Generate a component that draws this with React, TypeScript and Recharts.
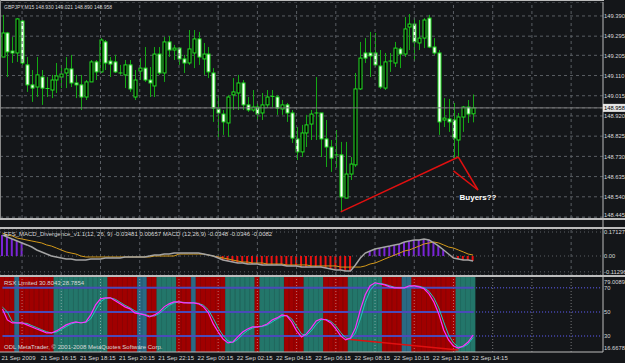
import React from 'react';
import {
  ComposedChart,
  Bar,
  Line,
  XAxis,
  YAxis,
  CartesianGrid,
  ReferenceLine,
  ReferenceDot,
  Cell
} from 'recharts';

const BG = '#141619';
const FONT = '"Liberation Sans", Arial, sans-serif';
const GRID = '#5a5e64';
const FRAME = '#bcbcbc';
const TXT = '#d8d8d8';

// GBPJPY M15 candles, 21 Sep 14:15 .. 22 Sep 14:15
const opens = [
  149.197, 149.310, 149.225, 149.216, 149.366, 149.160, 149.066, 149.056, 149.103, 149.051,
  149.042, 149.089, 149.103, 149.122, 149.141, 149.075, 149.066, 149.009, 149.080, 149.174,
  149.127, 149.268, 149.178, 149.174, 149.127, 149.113, 149.160, 149.009, 149.131, 149.145,
  149.089, 149.061, 149.211, 149.122, 149.268, 149.230, 149.239, 149.188, 149.169, 149.216,
  149.282, 149.188, 149.211, 149.122, 148.953, 148.929, 148.887, 149.019, 149.028, 149.075,
  148.972, 148.948, 148.962, 148.934, 148.972, 149.014, 149.009, 148.953, 148.972, 148.934,
  148.812, 148.751, 148.840, 148.882, 148.939, 148.934, 148.812, 148.774, 148.732, 148.737,
  148.534, 148.647, 148.690, 149.047, 149.216, 149.216, 149.216, 149.155, 149.051, 149.174,
  149.169, 149.235, 149.211, 149.338, 149.352, 149.263, 149.286, 149.380, 149.244, 149.216,
  148.901, 148.906, 148.901, 148.807, 148.915, 148.962, 148.930
];
const highs = [
  149.395, 149.315, 149.291, 149.380, 149.371, 149.197, 149.136, 149.197, 149.136, 149.103,
  149.113, 149.169, 149.160, 149.197, 149.207, 149.113, 149.113, 149.089, 149.183, 149.183,
  149.286, 149.277, 149.197, 149.207, 149.160, 149.183, 149.183, 149.136, 149.192, 149.244,
  149.150, 149.244, 149.244, 149.291, 149.296, 149.254, 149.244, 149.207, 149.324, 149.324,
  149.315, 149.263, 149.244, 149.145, 149.019, 148.948, 149.019, 149.098, 149.113, 149.089,
  149.009, 149.042, 148.981, 149.028, 149.042, 149.042, 149.019, 148.995, 148.981, 148.948,
  148.868, 148.878, 148.925, 148.948, 149.103, 148.934, 148.901, 148.807, 148.854, 148.798,
  148.798, 148.727, 149.122, 149.268, 149.286, 149.315, 149.310, 149.230, 149.216, 149.216,
  149.268, 149.244, 149.385, 149.399, 149.380, 149.371, 149.380, 149.395, 149.286, 149.230,
  149.004, 149.000, 148.981, 148.934, 148.967, 148.995, 149.021
];
const lows = [
  149.197, 149.103, 149.169, 149.174, 149.160, 149.033, 148.986, 149.009, 148.972, 149.009,
  149.004, 149.028, 149.051, 149.051, 149.056, 149.004, 148.948, 148.995, 149.080, 149.089,
  149.122, 149.136, 149.103, 149.122, 149.113, 149.051, 149.033, 148.995, 149.089, 149.080,
  149.009, 149.009, 149.113, 149.080, 149.197, 149.183, 149.160, 149.122, 149.160, 149.145,
  149.160, 149.113, 149.098, 148.892, 148.821, 148.831, 148.821, 148.948, 148.948, 148.948,
  148.939, 148.939, 148.901, 148.901, 148.957, 148.962, 148.925, 148.925, 148.892, 148.793,
  148.713, 148.727, 148.774, 148.807, 148.807, 148.727, 148.680, 148.657, 148.676, 148.469,
  148.534, 148.619, 148.680, 149.042, 149.169, 149.103, 149.150, 149.047, 149.042, 149.127,
  149.150, 149.145, 149.197, 149.230, 149.178, 149.230, 149.239, 149.239, 149.207, 148.831,
  148.868, 148.845, 148.722, 148.722, 148.845, 148.887, 148.890
];
const closes = [
  149.310, 149.221, 149.216, 149.376, 149.169, 149.066, 149.051, 149.113, 149.051, 149.049,
  149.089, 149.108, 149.117, 149.141, 149.075, 149.066, 149.009, 149.080, 149.174, 149.127,
  149.277, 149.169, 149.164, 149.127, 149.122, 149.160, 149.047, 149.089, 149.145, 149.089,
  149.075, 149.211, 149.122, 149.268, 149.230, 149.239, 149.188, 149.169, 149.235, 149.282,
  149.197, 149.211, 149.127, 148.957, 148.934, 148.892, 149.009, 149.033, 149.075, 148.972,
  148.948, 148.962, 148.929, 148.972, 149.009, 149.012, 148.957, 148.972, 148.934, 148.816,
  148.751, 148.840, 148.878, 148.929, 148.934, 148.812, 148.774, 148.722, 148.737, 148.539,
  148.647, 148.694, 149.047, 149.192, 149.192, 149.202, 149.160, 149.056, 149.174, 149.178,
  149.239, 149.211, 149.329, 149.352, 149.268, 149.286, 149.371, 149.244, 149.216, 148.892,
  148.910, 148.892, 148.816, 148.915, 148.962, 148.929, 148.958
];

const priceTicks = [149.39, 149.295, 149.205, 149.11, 149.015, 148.958, 148.92, 148.825, 148.73, 148.635, 148.54, 148.445];
const lastPrice = 148.958;

// MACD subwindow
const macdMain = [
  0.150, 0.136, 0.121, 0.107, 0.093, 0.079, 0.064, 0.043, 0.029, 0.014,
  0.000, -0.007, -0.014, -0.021, -0.021, -0.029, -0.029, -0.029, -0.021, -0.021,
  -0.021, -0.014, -0.014, -0.014, -0.014, -0.007, -0.007, -0.007, -0.007, -0.007,
  0.000, 0.007, 0.007, 0.014, 0.014, 0.021, 0.021, 0.021, 0.021, 0.021,
  0.021, 0.014, 0.007, 0.000, -0.014, -0.029, -0.036, -0.043, -0.050, -0.050,
  -0.057, -0.057, -0.057, -0.064, -0.064, -0.064, -0.064, -0.064, -0.071, -0.071,
  -0.071, -0.079, -0.079, -0.079, -0.079, -0.079, -0.086, -0.093, -0.100, -0.100,
  -0.107, -0.107, -0.064, -0.014, 0.021, 0.036, 0.050, 0.057, 0.064, 0.071,
  0.079, 0.086, 0.100, 0.107, 0.114, 0.114, 0.121, 0.114, 0.093, 0.071,
  0.043, 0.014, -0.014, -0.021, -0.029, -0.029, -0.035
];
const macdSignal = [
  0.164, 0.150, 0.143, 0.128, 0.121, 0.114, 0.107, 0.100, 0.093, 0.079,
  0.071, 0.057, 0.043, 0.029, 0.021, 0.014, 0.000, -0.007, -0.007, -0.007,
  -0.007, -0.007, -0.007, -0.007, -0.007, -0.007, -0.007, -0.007, -0.007, -0.007,
  -0.007, 0.000, 0.000, 0.000, 0.000, 0.000, 0.014, 0.014, 0.014, 0.014,
  0.014, 0.014, 0.007, 0.000, -0.007, -0.014, -0.021, -0.029, -0.036, -0.043,
  -0.043, -0.050, -0.050, -0.050, -0.057, -0.057, -0.057, -0.057, -0.064, -0.064,
  -0.064, -0.064, -0.064, -0.071, -0.071, -0.071, -0.071, -0.071, -0.071, -0.079,
  -0.079, -0.079, -0.079, -0.079, -0.071, -0.057, -0.050, -0.036, -0.021, -0.007,
  0.007, 0.021, 0.036, 0.043, 0.057, 0.071, 0.086, 0.093, 0.100, 0.093,
  0.079, 0.064, 0.057, 0.043, 0.029, 0.014, 0.007
];
// which bars carry a histogram stick: p = purple, r = red, - = none
const histRuns: [string, number][] = [['p', 5], ['-', 39], ['r', 28], ['-', 3], ['p', 16], ['-', 1], ['r', 5]];
const macdTicks = [0.17127, 0, -0.11296];
const macdTickText: Record<string, string> = { '0.17127': '0.17127', '0': '0.00', '-0.11296': '-0.11296' };

// RSX subwindow
const rsxMain = [
  52.5, 43.3, 40.8, 40.8, 40.8, 39.2, 37.5, 35.8, 34.2, 32.5,
  32.5, 34.2, 36.7, 39.2, 40.8, 41.7, 40.8, 41.7, 47.5, 55.8,
  60.8, 61.7, 61.7, 59.2, 56.7, 54.2, 52.5, 49.2, 48.3, 47.5,
  45.8, 47.5, 50.0, 54.2, 56.7, 58.3, 58.3, 57.5, 57.5, 57.5,
  56.7, 54.2, 49.2, 40.0, 33.3, 27.5, 24.2, 25.0, 29.2, 33.3,
  35.8, 37.5, 37.5, 38.3, 40.0, 43.3, 45.0, 47.5, 46.7, 41.7,
  34.2, 29.2, 31.7, 36.7, 42.5, 44.2, 43.3, 40.8, 35.8, 30.0,
  26.7, 28.3, 36.7, 51.7, 64.2, 71.7, 74.2, 73.3, 72.5, 70.8,
  70.0, 70.0, 70.0, 71.7, 71.7, 70.8, 69.2, 65.0, 58.3, 48.3,
  35.0, 26.7, 21.7, 20.0, 21.7, 25.0, 30.8
];
const rsxSignal = [
  54.0, 50.0, 42.0, 40.8, 40.8, 40.4, 38.6, 36.9, 35.2, 33.5,
  32.5, 33.2, 35.3, 37.8, 40.0, 41.2, 41.2, 41.2, 44.2, 51.5,
  58.4, 61.2, 61.7, 60.5, 58.0, 55.5, 53.4, 50.9, 48.8, 47.9,
  46.7, 46.6, 48.7, 52.0, 55.4, 57.5, 58.3, 57.9, 57.5, 57.5,
  57.1, 55.5, 51.7, 44.6, 36.7, 30.4, 25.9, 24.6, 27.1, 31.2,
  34.5, 36.6, 37.5, 37.9, 39.1, 41.6, 44.1, 46.2, 47.1, 44.2,
  38.0, 31.7, 30.4, 34.2, 39.6, 43.3, 43.8, 42.1, 38.3, 32.9,
  28.4, 27.5, 32.5, 44.2, 57.9, 67.9, 72.9, 73.8, 72.9, 71.7,
  70.4, 70.0, 70.0, 70.8, 71.7, 71.3, 70.0, 67.1, 61.7, 53.3,
  41.7, 30.9, 24.2, 20.9, 20.9, 23.3, 28.8
];
// background state per bar: r = red, g = green dotted, t = teal
const zoneRuns: [string, number][] = [
  ['r', 3], ['t', 1], ['r', 7], ['g', 11], ['r', 6], ['t', 2], ['r', 2], ['g', 4], ['r', 3], ['t', 1],
  ['r', 6], ['g', 6], ['r', 1], ['g', 5], ['r', 4], ['g', 4], ['r', 5], ['g', 7], ['r', 4], ['t', 2],
  ['r', 9], ['g', 4]
];
const zoneColors: Record<string, string> = { r: '#a00000', g: '#23766a', t: '#2a6a84' };
const rsxMin = 16.6678;
const rsxMax = 79.0089;
const rsxTicks = [79.0089, 70, 50, 30, 16.6678];
const rsxLevels = [70, 50, 30];

const timeTickBars = [0, 8, 16, 24, 32, 40, 48, 56, 64, 72, 80, 88, 96];
const timeLabels = [
  '21 Sep 2009', '21 Sep 16:15', '21 Sep 18:15', '21 Sep 20:15', '21 Sep 22:15', '22 Sep 00:15',
  '22 Sep 02:15', '22 Sep 04:15', '22 Sep 06:15', '22 Sep 08:15', '22 Sep 10:15', '22 Sep 12:15', '22 Sep 14:15'
];
const gridBars = [4, 12, 20, 28, 36, 44, 52, 60, 68, 76, 84, 92, 100, 108, 116];

const N = opens.length;
const SLOTS = 123;
const lastBar = N - 1;

const expand = (runs: [string, number][]) => runs.flatMap(([c, n]) => Array(n).fill(c));
const histTone = expand(histRuns);
const zones = expand(zoneRuns);

const slots = Array.from({ length: SLOTS }, (_, i) => i);

const mainData = slots.map(i =>
  i < N
    ? { i, open: opens[i], high: highs[i], low: lows[i], close: closes[i], range: [lows[i], highs[i]] }
    : { i, range: null }
);
const macdData = slots.map(i => ({
  i,
  macd: i < N ? macdMain[i] : null,
  signal: i < N ? macdSignal[i] : null,
  hist: i < N && histTone[i] !== '-' ? macdMain[i] : null
}));
const rsxData = slots.map(i => ({
  i,
  rsx: i < N ? rsxMain[i] : null,
  sig: i < N ? rsxSignal[i] : null,
  band: i < N ? [rsxMin, rsxMax] : null
}));

const CandleShape = (props: any) => {
  const { x, y, width, height, payload } = props;
  if (!payload || payload.open == null || width == null) return null;
  const { open, close, high, low } = payload;
  const top = Math.min(y, y + height);
  const h = Math.abs(height);
  const ppu = high === low ? 0 : h / (high - low);
  const yO = top + (high - open) * ppu;
  const yC = top + (high - close) * ppu;
  const cx = Math.round(x + width / 2) + 0.5;
  const up = close > open;
  const bTop = Math.min(yO, yC);
  const bH = Math.max(Math.abs(yO - yC), 1);
  return (
    <g>
      <line x1={cx} y1={top} x2={cx} y2={top + h} stroke="#14a814" strokeWidth={1} />
      {Math.abs(yO - yC) < 1.2 ? (
        <line x1={cx - 2} y1={yC} x2={cx + 2} y2={yC} stroke="#22e022" strokeWidth={1} />
      ) : (
        <rect x={cx - 1.5} y={bTop} width={3} height={bH} fill={up ? '#000000' : '#ffffff'} stroke="#22e022" strokeWidth={1} />
      )}
    </g>
  );
};

const ZoneShape = (props: any) => {
  const { x, y, width, height, fill } = props;
  if (width == null || height == null) return null;
  return <rect x={x} y={Math.min(y, y + height)} width={width} height={Math.abs(height)} fill={fill} stroke={fill} strokeWidth={0.6} />;
};

const AxisTick = (props: any) => {
  const { x, y, payload, fmt, shift, boxed } = props;
  const v = payload.value;
  const s = fmt(v);
  const dy = (shift && shift[s]) || 0;
  if (boxed != null && Math.abs(v - boxed) < 1e-9) {
    return (
      <g>
        <rect x={x - 1} y={y - 4} width={24} height={8} fill="#e6e6e6" />
        <text x={x} y={y + 2.2} fill="#000" fontSize={5.8} fontFamily={FONT}>{s}</text>
      </g>
    );
  }
  return (
    <text x={x} y={y + 2.2 + dy} fill={TXT} fontSize={5.8} fontFamily={FONT}>{s}</text>
  );
};

const TimeTick = (props: any) => {
  const { x, y, payload } = props;
  const k = timeTickBars.indexOf(payload.value);
  if (k < 0) return null;
  return (
    <text x={x - 1} y={y + 8} fill={TXT} fontSize={6} fontFamily={FONT}>{timeLabels[k]}</text>
  );
};

const zeroMargin = { top: 0, right: 0, bottom: 0, left: 0 };

const Panel = ({ top, height, children }: any) => (
  <div style={{ position: 'absolute', left: 0, top, width: 625, height }}>{children}</div>
);

const Rule = ({ top, height, width = 625 }: any) => (
  <div style={{ position: 'absolute', left: 0, top, width, height, background: FRAME }} />
);

export default function App() {
  return (
    <div style={{ position: 'fixed', left: 0, top: 0, width: 625, height: 363, background: BG, overflow: 'hidden' }}>
      <Panel top={2} height={216}>
        <ComposedChart width={625} height={216} data={mainData} margin={zeroMargin}>
          <CartesianGrid vertical={false} stroke={GRID} strokeDasharray="3 3" />
          <XAxis dataKey="i" hide />
          <YAxis
            orientation="right"
            width={22}
            type="number"
            domain={[148.4404, 149.4556]}
            allowDataOverflow
            ticks={priceTicks}
            interval={0}
            axisLine={{ stroke: FRAME }}
            tickLine={false}
            tickSize={0}
            tickMargin={1}
            tick={<AxisTick fmt={(v: number) => v.toFixed(3)} boxed={lastPrice} shift={{ '148.445': -2 }} />}
          />
          {gridBars.map(b => (
            <ReferenceLine key={'g' + b} x={b} stroke={GRID} strokeDasharray="3 3" />
          ))}
          <ReferenceLine y={lastPrice} stroke="#7c7c7c" />
          <Bar dataKey="range" shape={<CandleShape />} barSize={3} isAnimationActive={false} />
          <ReferenceLine segment={[{ x: 69, y: 148.469 }, { x: 93, y: 148.727 }]} stroke="#e01010" strokeWidth={1.5} />
          <ReferenceLine segment={[{ x: 93, y: 148.727 }, { x: 97, y: 148.572 }]} stroke="#e01010" strokeWidth={1.5} />
          <ReferenceLine segment={[{ x: 92, y: 148.662 }, { x: 97, y: 148.572 }]} stroke="#e01010" strokeWidth={1.5} />
          <ReferenceDot
            x={97}
            y={148.537}
            r={1}
            shape={(p: any) => (
              <text x={p.cx} y={p.cy + 3} textAnchor="middle" fill="#ffffff" fontSize={8} fontWeight={700} fontFamily={FONT}>
                Buyers??
              </text>
            )}
          />
        </ComposedChart>
      </Panel>

      <Panel top={220} height={7}>
        <ComposedChart width={625} height={7} data={mainData} margin={zeroMargin}>
          <XAxis dataKey="i" hide />
          <YAxis orientation="right" width={22} type="number" domain={[0, 1]} tick={false} tickLine={false} axisLine={{ stroke: FRAME }} />
          <ReferenceLine segment={[{ x: 0, y: 0.3 }, { x: lastBar, y: 0.3 }]} stroke="#d01010" />
          <ReferenceLine segment={[{ x: 0, y: 0.6 }, { x: lastBar, y: 0.6 }]} stroke="#20a8ff" strokeWidth={2} strokeDasharray="2 3" />
        </ComposedChart>
      </Panel>

      <Panel top={229} height={46}>
        <ComposedChart width={625} height={46} data={macdData} margin={zeroMargin}>
          <CartesianGrid vertical={false} stroke={GRID} strokeDasharray="1 3" />
          <XAxis dataKey="i" hide />
          <YAxis
            orientation="right"
            width={22}
            type="number"
            domain={[-0.1356, 0.1927]}
            allowDataOverflow
            ticks={macdTicks}
            interval={0}
            axisLine={{ stroke: FRAME }}
            tickLine={false}
            tickSize={0}
            tickMargin={1}
            tick={<AxisTick fmt={(v: number) => macdTickText[String(v)] ?? String(v)} />}
          />
          {gridBars.map(b => (
            <ReferenceLine key={'m' + b} x={b} stroke={GRID} strokeDasharray="3 3" />
          ))}
          <Bar dataKey="hist" barSize={2} isAnimationActive={false}>
            {macdData.map((d, i) => (
              <Cell key={i} fill={histTone[i] === 'p' ? '#7a24d6' : '#ee1010'} />
            ))}
          </Bar>
          <Line dataKey="signal" stroke="#d49a1a" strokeWidth={1} dot={false} isAnimationActive={false} />
          <Line dataKey="macd" stroke="#a4a4a4" strokeWidth={1.5} dot={false} isAnimationActive={false} />
        </ComposedChart>
      </Panel>

      <Panel top={277} height={86}>
        <ComposedChart width={625} height={86} data={rsxData} margin={zeroMargin}>
          <XAxis
            dataKey="i"
            height={11}
            ticks={timeTickBars}
            interval={0}
            tickLine={false}
            tickSize={0}
            tickMargin={0}
            axisLine={{ stroke: FRAME }}
            tick={<TimeTick />}
          />
          <YAxis
            orientation="right"
            width={22}
            type="number"
            domain={[rsxMin, rsxMax]}
            allowDataOverflow
            ticks={rsxTicks}
            interval={0}
            axisLine={{ stroke: FRAME }}
            tickLine={false}
            tickSize={0}
            tickMargin={1}
            tick={<AxisTick fmt={(v: number) => String(v)} shift={{ '79.0089': 5, '16.6678': -4 }} />}
          />
          <Bar dataKey="band" barSize={6} shape={<ZoneShape />} isAnimationActive={false}>
            {rsxData.map((d, i) => (
              <Cell key={i} fill={zoneColors[zones[i]] || 'none'} />
            ))}
          </Bar>
          {gridBars.map(b => (
            <ReferenceLine key={'r' + b} x={b} stroke="#d8d8d8" strokeOpacity={0.5} strokeDasharray="1 2" />
          ))}
          {rsxLevels.map(l => (
            <ReferenceLine key={'l' + l} segment={[{ x: 0, y: l }, { x: lastBar, y: l }]} stroke="#4a4ab8" strokeWidth={2} />
          ))}
          {rsxLevels.map(l => (
            <ReferenceLine key={'d' + l} segment={[{ x: lastBar, y: l }, { x: SLOTS - 1, y: l }]} stroke="#4a4ab8" strokeWidth={1.5} strokeDasharray="1 2" />
          ))}
          <ReferenceLine segment={[{ x: 70, y: 27.5 }, { x: 93, y: 18.4 }]} stroke="#e01010" strokeWidth={1.5} />
          <Line dataKey="sig" stroke="#20c8c0" strokeWidth={1} dot={false} isAnimationActive={false} />
          <Line dataKey="rsx" stroke="#ff30ff" strokeWidth={1.2} dot={false} isAnimationActive={false} />
        </ComposedChart>
      </Panel>

      <Rule top={0} height={1} width={604} />
      <div style={{ position: 'absolute', left: 0, top: 0, width: 1, height: 218, background: '#8a8a8a' }} />
      <Rule top={218} height={2} />
      <Rule top={227} height={2} />
      <Rule top={275} height={2} />

      <svg width={625} height={363} style={{ position: 'absolute', left: 0, top: 0, pointerEvents: 'none' }}>
        <g fill={TXT} fontFamily={FONT}>
          <text x={4} y={9} fontSize={5}>GBPJPY,M15 148.930 149.021 148.890 148.958</text>
          <text x={4} y={236} fontSize={6}>EFS_MACD_Divergence_v1.1(12, 26, 9) -0.03481 0.00657  MACD (12,26,9) -0.0348 -0.0346 -0.0082</text>
          <text x={4} y={285} fontSize={6}>RSX Limited 30.8043 28.7854</text>
          <text x={4} y={349} fontSize={6}>ODL MetaTrader, © 2001-2008 MetaQuotes Software Corp.</text>
        </g>
      </svg>
    </div>
  );
}
